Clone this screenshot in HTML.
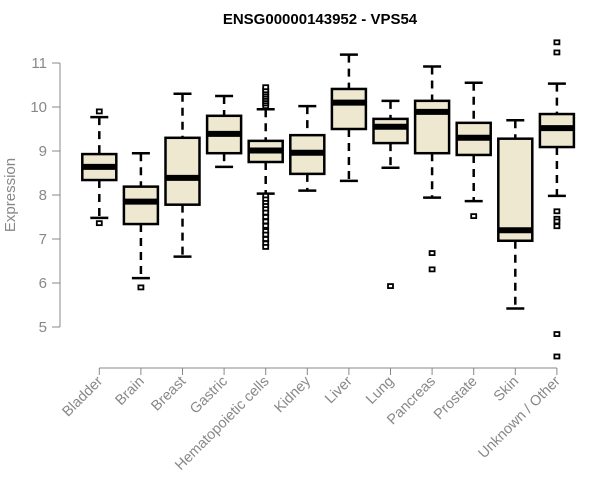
<!DOCTYPE html>
<html><head><meta charset="utf-8"><style>
html,body{margin:0;padding:0;background:#fff;}
svg{display:block;font-family:"Liberation Sans",Arial,sans-serif;}
</style></head><body>
<svg id="chart" width="600" height="500">
<text x="320" y="24" text-anchor="middle" font-size="15" font-weight="bold" fill="#000">ENSG00000143952 - VPS54</text>
<text transform="translate(15,195) rotate(-90)" text-anchor="middle" font-size="15" fill="#888">Expression</text>
<g id="axes"></g><g id="marks"></g>
</svg>
<script>
const categories=["Bladder","Brain","Breast","Gastric","Hematopoietic cells","Kidney","Liver","Lung","Pancreas","Prostate","Skin","Unknown / Other"];
const whiskerLow=[7.48,6.11,6.6,8.64,8.03,8.1,8.32,8.62,7.94,7.86,5.42,7.98];
const q1=[8.34,7.34,7.78,8.95,8.75,8.48,9.5,9.18,8.95,8.91,6.96,9.09];
const medians=[8.64,7.85,8.39,9.39,9.01,8.96,10.1,9.55,9.89,9.3,7.2,9.52];
const q3=[8.93,8.19,9.3,9.8,9.23,9.36,10.41,9.73,10.14,9.64,9.28,9.84];
const whiskerHigh=[9.77,8.95,10.3,10.25,9.95,10.02,11.19,10.14,10.92,10.55,9.7,10.53];
const outliers=[[9.9,7.36],[5.9],[],[],[10.02,10.08,10.13,10.18,10.23,10.28,10.33,10.38,10.45,7.98,7.9,7.82,7.75,7.68,7.6,7.5,7.4,7.3,7.18,7.1,7.0,6.9,6.82],[],[],[5.93],[6.68,6.31],[7.52],[],[11.47,11.24,7.63,7.46,7.4,7.29,4.84,4.33]];
const yTicks=[5,6,7,8,9,10,11];
const NS="http://www.w3.org/2000/svg";
const y=v=>63+44*(11-v);
const x=i=>99.3+41.6*i;
const axes=document.getElementById('axes'),marks=document.getElementById('marks');
function mk(tag,attrs,parent){const e=document.createElementNS(NS,tag);for(const k in attrs)e.setAttribute(k,attrs[k]);parent.appendChild(e);return e;}
let e=mk('line',{x1:60,x2:60,y1:y(11),y2:y(5),stroke:'#888'},axes);


yTicks.forEach(t=>{
 let l=mk('line',{x1:52,x2:60,y1:y(t),y2:y(t),stroke:'#888'},axes);
 
 
 let tx=mk('text',{x:47,y:y(t)+5,'text-anchor':'end','font-size':15,fill:'#888'},axes);
 tx.textContent=t;
 
 
});
e=mk('line',{x1:x(0),x2:x(11),y1:368,y2:368,stroke:'#888'},axes);


categories.forEach((c,i)=>{
 const cx=x(i);
 let l=mk('line',{x1:cx,x2:cx,y1:368,y2:375,stroke:'#888'},axes);
 
 
 let tx=mk('text',{transform:`translate(${cx+4},${382}) rotate(-45)`,'text-anchor':'end','font-size':14.5,fill:'#888'},axes);
 tx.textContent=c;
 
 
 const g=mk('g',{},marks);
 
 
 mk('line',{x1:cx,x2:cx,y1:y(whiskerHigh[i]),y2:y(q3[i]),stroke:'#000','stroke-width':2.5,'stroke-dasharray':'8,6'},g);
 mk('line',{x1:cx,x2:cx,y1:y(q1[i]),y2:y(whiskerLow[i]),stroke:'#000','stroke-width':2.5,'stroke-dasharray':'8,6'},g);
 mk('line',{x1:cx-9,x2:cx+9,y1:y(whiskerHigh[i]),y2:y(whiskerHigh[i]),stroke:'#000','stroke-width':2.5},g);
 mk('line',{x1:cx-9,x2:cx+9,y1:y(whiskerLow[i]),y2:y(whiskerLow[i]),stroke:'#000','stroke-width':2.5},g);
 mk('rect',{x:cx-17,y:y(q3[i]),width:34,height:y(q1[i])-y(q3[i]),fill:'#ede8cf',stroke:'#000','stroke-width':2.5},g);
 mk('line',{x1:cx-17,x2:cx+17,y1:y(medians[i]),y2:y(medians[i]),stroke:'#000','stroke-width':6},g);
 outliers[i].forEach(v=>{
  mk('rect',{x:cx-2.5,y:y(v)-2,width:5,height:4,fill:'#fff',stroke:'#000','stroke-width':1.8},g);
 });
});
</script>
</body></html>
